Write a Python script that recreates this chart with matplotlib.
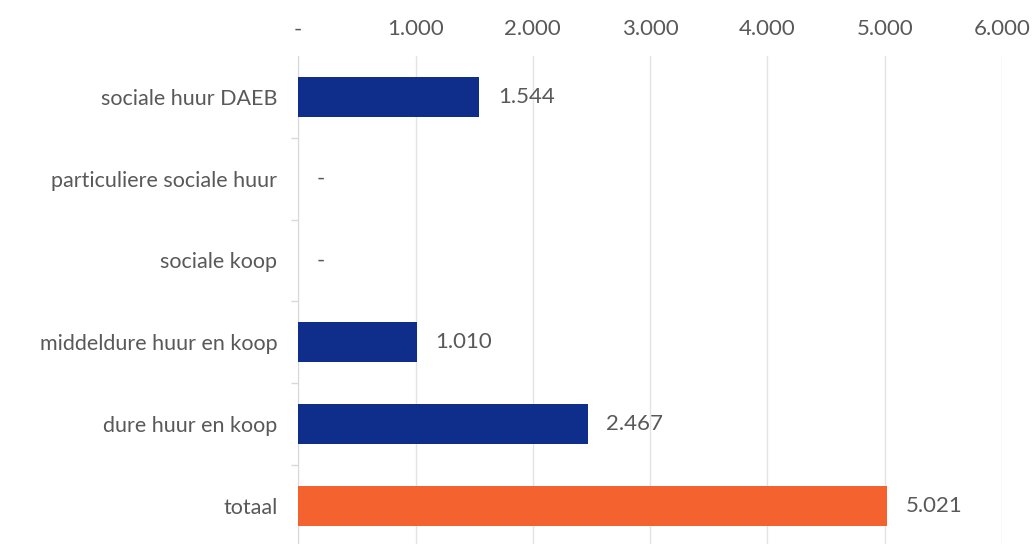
import numpy as np
import matplotlib.pyplot as plt

plt.rcParams['font.family'] = ['Lato', 'DejaVu Sans']

categories = ["sociale huur DAEB", "particuliere sociale huur", "sociale koop",
              "middeldure huur en koop", "dure huur en koop", "totaal"]
values = [1544, 0, 0, 1010, 2467, 5021]
colors = ["#0f2d8a"] * 5 + ["#f4622f"]
xticks = [0, 1000, 2000, 3000, 4000, 5000, 6000]


def fmt(v):
    if v == 0:
        return "-"
    return "{:,}".format(v).replace(",", ".")


fig = plt.figure(figsize=(10.32, 5.44), dpi=100)
ax = fig.add_axes([0.289, -0.005, 0.682, 0.902])

y = np.arange(len(categories))
ax.barh(y, values, height=0.49, color=colors, zorder=3)
ax.set_ylim(len(categories) - 0.5, -0.5)
ax.set_xlim(0, 6000)

for yi, v in zip(y, values):
    ax.text(v + 160, yi, fmt(v), va='center', ha='left', fontsize=16, color="#595959")

ax.set_yticks(y)
ax.set_yticklabels(categories, fontsize=15.5, color="#595959")
ax.set_yticks(np.arange(0.5, len(categories) - 0.5, 1), minor=True)
ax.tick_params(axis='y', which='major', length=0, pad=15)
ax.tick_params(axis='y', which='minor', length=5, color="#d9d9d9", width=1)

ax.xaxis.tick_top()
ax.set_xticks(xticks)
ax.set_xticklabels([fmt(t) for t in xticks], fontsize=16, color="#595959")
ax.tick_params(axis='x', length=0, pad=12)
ax.grid(axis='x', color="#e3e3e3", linewidth=1, zorder=0)

for s in ["top", "right", "bottom"]:
    ax.spines[s].set_visible(False)
ax.spines["left"].set_color("#d9d9d9")

fig.savefig("out.png", dpi=100)
